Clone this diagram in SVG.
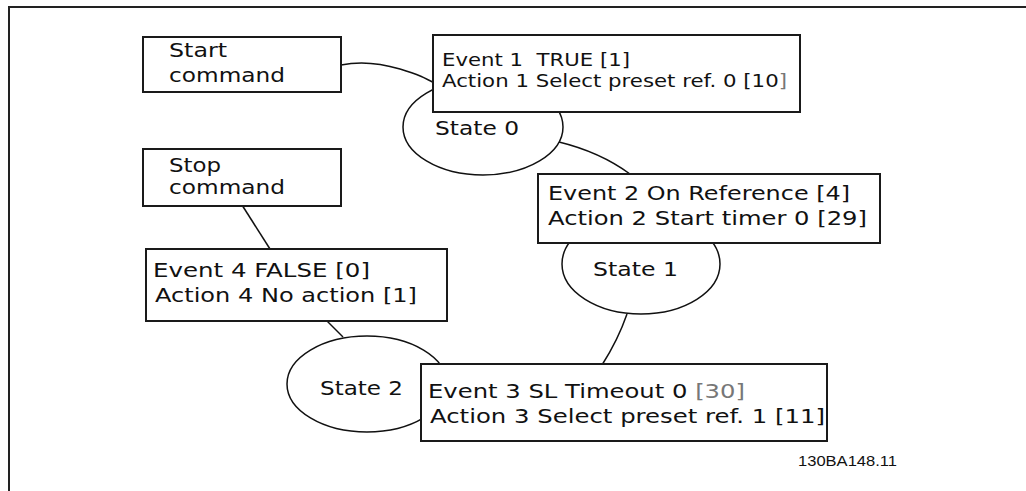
<svg xmlns="http://www.w3.org/2000/svg" width="1026" height="491" viewBox="0 0 1026 491">
<style>
.box{fill:#fff;stroke:#1a1a1a;stroke-width:2}
.st{fill:#fff;stroke:#111;stroke-width:1.5}
.con{fill:none;stroke:#111;stroke-width:1.5}
.t{font-family:"DejaVu Sans","Verdana",sans-serif;font-size:19px;fill:#111}
.ts{font-family:"DejaVu Sans","Verdana",sans-serif;font-size:17px;fill:#111}
.lbl{font-family:"Liberation Sans",Arial,sans-serif;font-size:15px;fill:#111}
.gr{fill:#777}
</style>
<rect width="1026" height="491" fill="#fff"/>
<g id="frame">
<path d="M9,491 V7 H1026" fill="none" stroke="#222" stroke-width="2"/>
</g>
<g id="state0">
<ellipse class="st" cx="483" cy="127" rx="80" ry="48"/>
<text class="t" x="435" y="135" textLength="84" lengthAdjust="spacingAndGlyphs">State 0</text>
</g>
<g id="state1">
<ellipse class="st" cx="641" cy="264" rx="79" ry="50"/>
<text class="t" x="593" y="276" textLength="85" lengthAdjust="spacingAndGlyphs">State 1</text>
</g>
<g id="state2">
<ellipse class="st" cx="367" cy="384" rx="80" ry="48"/>
<text class="t" x="320" y="395" textLength="83" lengthAdjust="spacingAndGlyphs">State 2</text>
</g>
<g id="connectors">
<path class="con" d="M341,65 C360,61 380,63 400,69 S425,78 440,86"/>
<path class="con" d="M559,142 Q600,152 630,174"/>
<path class="con" d="M627,314 Q618,340 602,365"/>
<path class="con" d="M242,205 L270,249"/>
<path class="con" d="M327,321 L343,337"/>
</g>
<g id="start">
<rect class="box" x="143" y="37" width="198" height="55"/>
<text class="t" x="169" y="57" textLength="58" lengthAdjust="spacingAndGlyphs">Start</text>
<text class="t" x="169" y="82" textLength="116" lengthAdjust="spacingAndGlyphs">command</text>
</g>
<g id="stop">
<rect class="box" x="143" y="149" width="198" height="57"/>
<text class="t" x="169" y="172" textLength="52" lengthAdjust="spacingAndGlyphs">Stop</text>
<text class="t" x="169" y="194" textLength="116" lengthAdjust="spacingAndGlyphs">command</text>
</g>
<g id="event1">
<rect class="box" x="433" y="35" width="367" height="77"/>
<text class="ts" x="442" y="66" textLength="188" lengthAdjust="spacingAndGlyphs" xml:space="preserve">Event 1  TRUE [1]</text>
<text class="ts" x="442" y="87" textLength="345" lengthAdjust="spacingAndGlyphs">Action 1 Select preset ref. 0 [10<tspan class="gr">]</tspan></text>
</g>
<g id="event2">
<rect class="box" x="538" y="174" width="342" height="69"/>
<text class="t" x="548" y="200" textLength="302" lengthAdjust="spacingAndGlyphs">Event 2 On Reference [4]</text>
<text class="t" x="548" y="225" textLength="319" lengthAdjust="spacingAndGlyphs">Action 2 Start timer 0 [29]</text>
</g>
<g id="event4">
<rect class="box" x="146" y="249" width="301" height="72"/>
<text class="t" x="153" y="277" textLength="217" lengthAdjust="spacingAndGlyphs">Event 4 FALSE [0]</text>
<text class="t" x="155" y="302" textLength="262" lengthAdjust="spacingAndGlyphs">Action 4 No action [1]</text>
</g>
<g id="event3">
<rect class="box" x="421" y="364" width="406" height="77"/>
<text class="t" x="428" y="398" textLength="317" lengthAdjust="spacingAndGlyphs">Event 3 SL Timeout 0 <tspan class="gr">[30]</tspan></text>
<text class="t" x="430" y="423" textLength="395" lengthAdjust="spacingAndGlyphs">Action 3 Select preset ref. 1 [11]</text>
</g>
<g id="label">
<text class="lbl" x="798" y="466" textLength="99" lengthAdjust="spacingAndGlyphs">130BA148.11</text>
</g>
</svg>
